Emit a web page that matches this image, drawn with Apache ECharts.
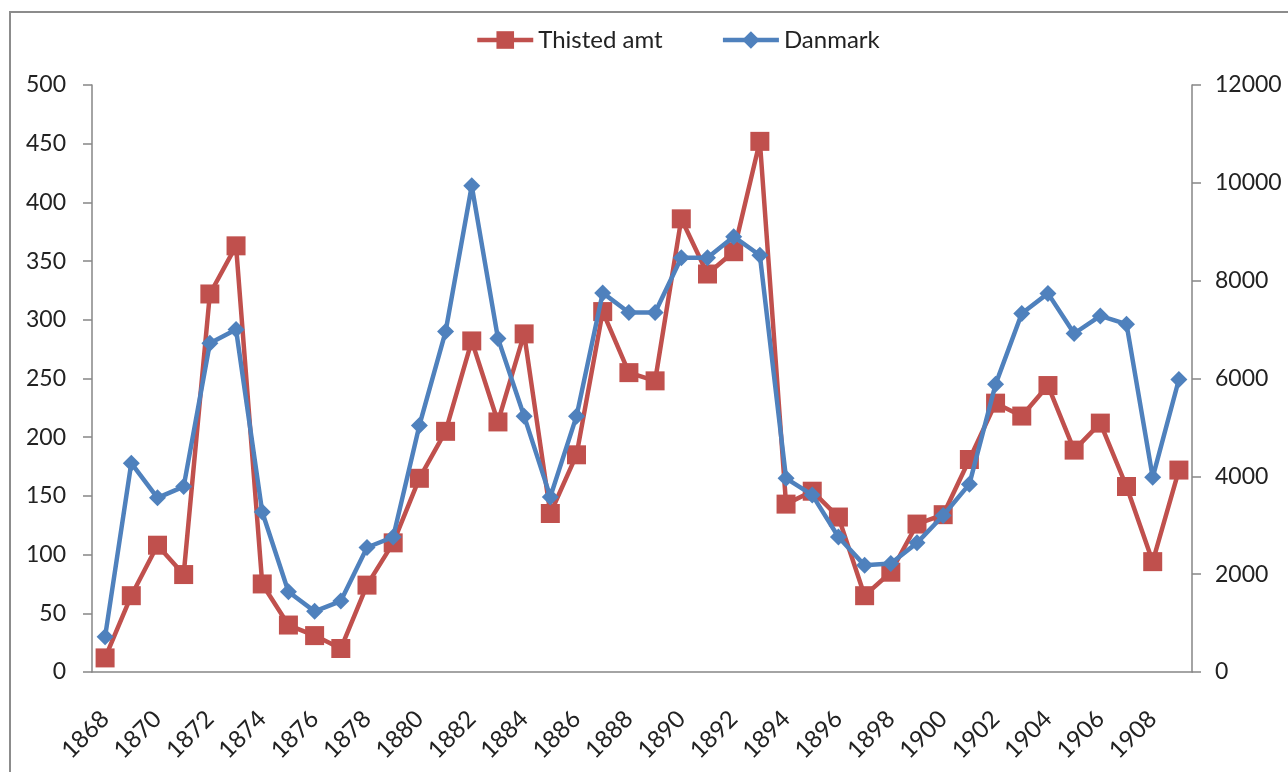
<!DOCTYPE html>
<html>
<head>
<meta charset="utf-8">
<title>Thisted amt / Danmark</title>
<script src="https://cdn.jsdelivr.net/npm/echarts@6/dist/echarts.min.js"></script>
<style>
html,body{margin:0;padding:0;background:#fff;}
#barAndLine{width:1288px;height:772px;}
</style>
</head>
<body>
<div id="barAndLine"></div>
<script>
// aarstal
var years = [];
for (var y = 1868; y <= 1909; y++) { years.push(String(y)); }

// Thisted amt (venstre akse)
var thisted = [12, 65, 108, 83, 322, 363, 75, 40, 31, 20,
	74, 110, 165, 205, 282, 213, 288, 135, 185, 307,
	255, 248, 386, 339, 358, 452, 143, 154, 132, 65,
	85, 126, 134, 181, 229, 218, 244, 189, 212, 158,
	94, 172];

// Danmark (hoejre akse)
var danmark = [720, 4270, 3560, 3790, 6720, 7000, 3270, 1640, 1240, 1450,
	2545, 2760, 5040, 6960, 9940, 6820, 5230, 3580, 5230, 7750,
	7350, 7350, 8470, 8470, 8900, 8520, 3960, 3620, 2760, 2180,
	2220, 2640, 3200, 3840, 5880, 7330, 7740, 6920, 7280, 7110,
	3980, 5980];

var fnt = 'Lato';
var axisGrey = '#868686';

var chartOption = echarts.init(document.getElementById('barAndLine'));
chartOption.setOption({
	animation: false,
	backgroundColor: '#fff',
	textStyle: { fontFamily: fnt },
	graphic: [{
		type: 'rect',
		shape: { x: 10, y: 12, width: 1300, height: 800 },
		style: { fill: 'none', stroke: '#8c8c8c', lineWidth: 2 }
	}],
	legend: {
		top: 23,
		left: 470,
		itemWidth: 56,
		itemHeight: 22,
		itemGap: 58,
		lineStyle: { width: 4.5 },
		textStyle: { fontSize: 24, color: '#222', fontFamily: fnt },
		data: ['Thisted amt', 'Danmark']
	},
	grid: { left: 92, right: 96, top: 85, bottom: 100, outerBoundsMode: 'none' },
	xAxis: {
		type: 'category',
		data: years,
		boundaryGap: true,
		axisLine: { lineStyle: { color: axisGrey, width: 1.5 } },
		axisTick: { interval: 0, length: 8, lineStyle: { color: axisGrey, width: 1.5 } },
		axisLabel: {
			interval: 1,
			rotate: 45,
			margin: 43,
			fontSize: 24,
			color: '#222',
			fontFamily: fnt
		}
	},
	yAxis: [{
		type: 'value',
		min: 0,
		max: 500,
		interval: 50,
		splitLine: { show: false },
		axisLine: { show: true, lineStyle: { color: axisGrey, width: 1.5 } },
		axisTick: { show: true, length: 9, lineStyle: { color: axisGrey, width: 1.5 } },
		axisLabel: { margin: 26, fontSize: 23, color: '#222', fontFamily: fnt }
	}, {
		type: 'value',
		min: 0,
		max: 12000,
		interval: 2000,
		splitLine: { show: false },
		axisLine: { show: true, lineStyle: { color: axisGrey, width: 1.5 } },
		axisTick: { show: true, length: 9, lineStyle: { color: axisGrey, width: 1.5 } },
		axisLabel: {
			margin: 23, fontSize: 23, color: '#222', fontFamily: fnt,
			formatter: function (v) { return String(v); }
		}
	}],
	series: [{
		name: 'Thisted amt',
		type: 'line',
		yAxisIndex: 0,
		data: thisted,
		symbol: 'rect',
		symbolSize: 19,
		showAllSymbol: true,
		itemStyle: { color: '#C0504D' },
		lineStyle: { color: '#C0504D', width: 4.5 },
		z: 2
	}, {
		name: 'Danmark',
		type: 'line',
		yAxisIndex: 1,
		data: danmark,
		symbol: 'diamond',
		symbolSize: 17,
		showAllSymbol: true,
		itemStyle: { color: '#4F81BD' },
		lineStyle: { color: '#4F81BD', width: 4.5 },
		z: 3
	}]
});
</script>
</body>
</html>
